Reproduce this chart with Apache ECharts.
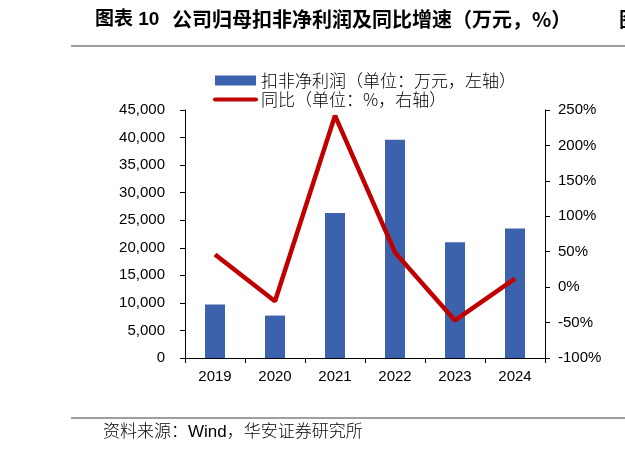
<!DOCTYPE html>
<html>
<head>
<meta charset="utf-8">
<script src="https://cdn.jsdelivr.net/npm/echarts@6/dist/echarts.min.js"></script>
<style>html,body{margin:0;background:#fff}#chart{width:625px;height:456px}</style>
</head>
<body>
<div id="chart"></div>
<script>
// 数据
const years = ['2019', '2020', '2021', '2022', '2023', '2024'];
const profit = [9700, 7700, 26300, 39600, 21000, 23500];   // 万元
const yoy = [46, -20, 242, 49, -47, 12];                    // %

const cjk = 'Liberation Sans, Arial, Noto Sans CJK SC, sans-serif';
const chart = echarts.init(document.getElementById('chart'));

chart.setOption({
  animation: false,
  backgroundColor: '#fff',
  grid: { left: 185, right: 80, top: 110, bottom: 98 },
  legend: {
    orient: 'vertical',
    left: 213,
    top: 72,
    padding: 0,
    itemWidth: 41,
    itemHeight: 10,
    itemGap: 2,
    textStyle: { fontFamily: 'Noto Sans CJK SC', fontSize: 17, color: '#000', fontWeight: 300 },
    data: [
      { name: '扣非净利润（单位：万元，左轴）', icon: 'rect' },
      { name: '同比（单位：%，右轴）', itemStyle: { opacity: 0 }, lineStyle: { width: 4, cap: 'round' } }
    ]
  },
  graphic: [
    { type: 'text', left: 95, top: 10, style: { text: '图表 10', font: 'bold 19px ' + cjk, fill: '#000' } },
    { type: 'text', left: 172, top: 9, style: { text: '公司归母扣非净利润及同比增速（万元，%）', font: 'bold 20px Noto Sans CJK SC', fill: '#000' } },
    { type: 'text', left: 619, top: 9, style: { text: '图', font: 'bold 20px Noto Sans CJK SC', fill: '#000' } },
    { type: 'line', shape: { x1: 71, y1: 46, x2: 625, y2: 46 }, style: { stroke: '#7f7f7f', lineWidth: 1.5 } },
    { type: 'line', shape: { x1: 71, y1: 418, x2: 625, y2: 418 }, style: { stroke: '#7f7f7f', lineWidth: 1.5 } },
    { type: 'text', left: 103, top: 424, style: { text: '资料来源：Wind，华安证券研究所', font: '300 17px ' + cjk, fill: '#000' } }
  ],
  xAxis: {
    type: 'category',
    data: years,
    axisLine: { lineStyle: { color: '#000', width: 1 } },
    axisTick: { show: true, length: 5, inside: false, lineStyle: { color: '#000' } },
    axisLabel: { color: '#000', fontSize: 15, fontFamily: 'Liberation Sans', margin: 11 }
  },
  yAxis: [
    {
      type: 'value',
      min: 0,
      max: 45000,
      interval: 5000,
      splitLine: { show: false },
      axisLine: { show: true, lineStyle: { color: '#000', width: 1 } },
      axisTick: { show: true, length: 5, lineStyle: { color: '#000' } },
      axisLabel: {
        color: '#000', fontSize: 15, fontFamily: 'Liberation Sans', margin: 20,
        formatter: v => v.toLocaleString('en-US')
      }
    },
    {
      type: 'value',
      position: 'right',
      min: -100,
      max: 250,
      interval: 50,
      splitLine: { show: false },
      axisLine: { show: true, lineStyle: { color: '#000', width: 1 } },
      axisTick: { show: true, length: 5, lineStyle: { color: '#000' } },
      axisLabel: { color: '#000', fontSize: 15, fontFamily: 'Liberation Sans', margin: 13, formatter: '{value}%' }
    }
  ],
  series: [
    {
      name: '扣非净利润（单位：万元，左轴）',
      type: 'bar',
      data: profit,
      barWidth: 20,
      itemStyle: { color: '#3C62AD' }
    },
    {
      name: '同比（单位：%，右轴）',
      type: 'line',
      yAxisIndex: 1,
      data: yoy,
      symbol: 'none',
      lineStyle: { color: '#C00000', width: 4.5 },
      itemStyle: { color: '#C00000' }
    }
  ]
});
</script>
</body>
</html>
